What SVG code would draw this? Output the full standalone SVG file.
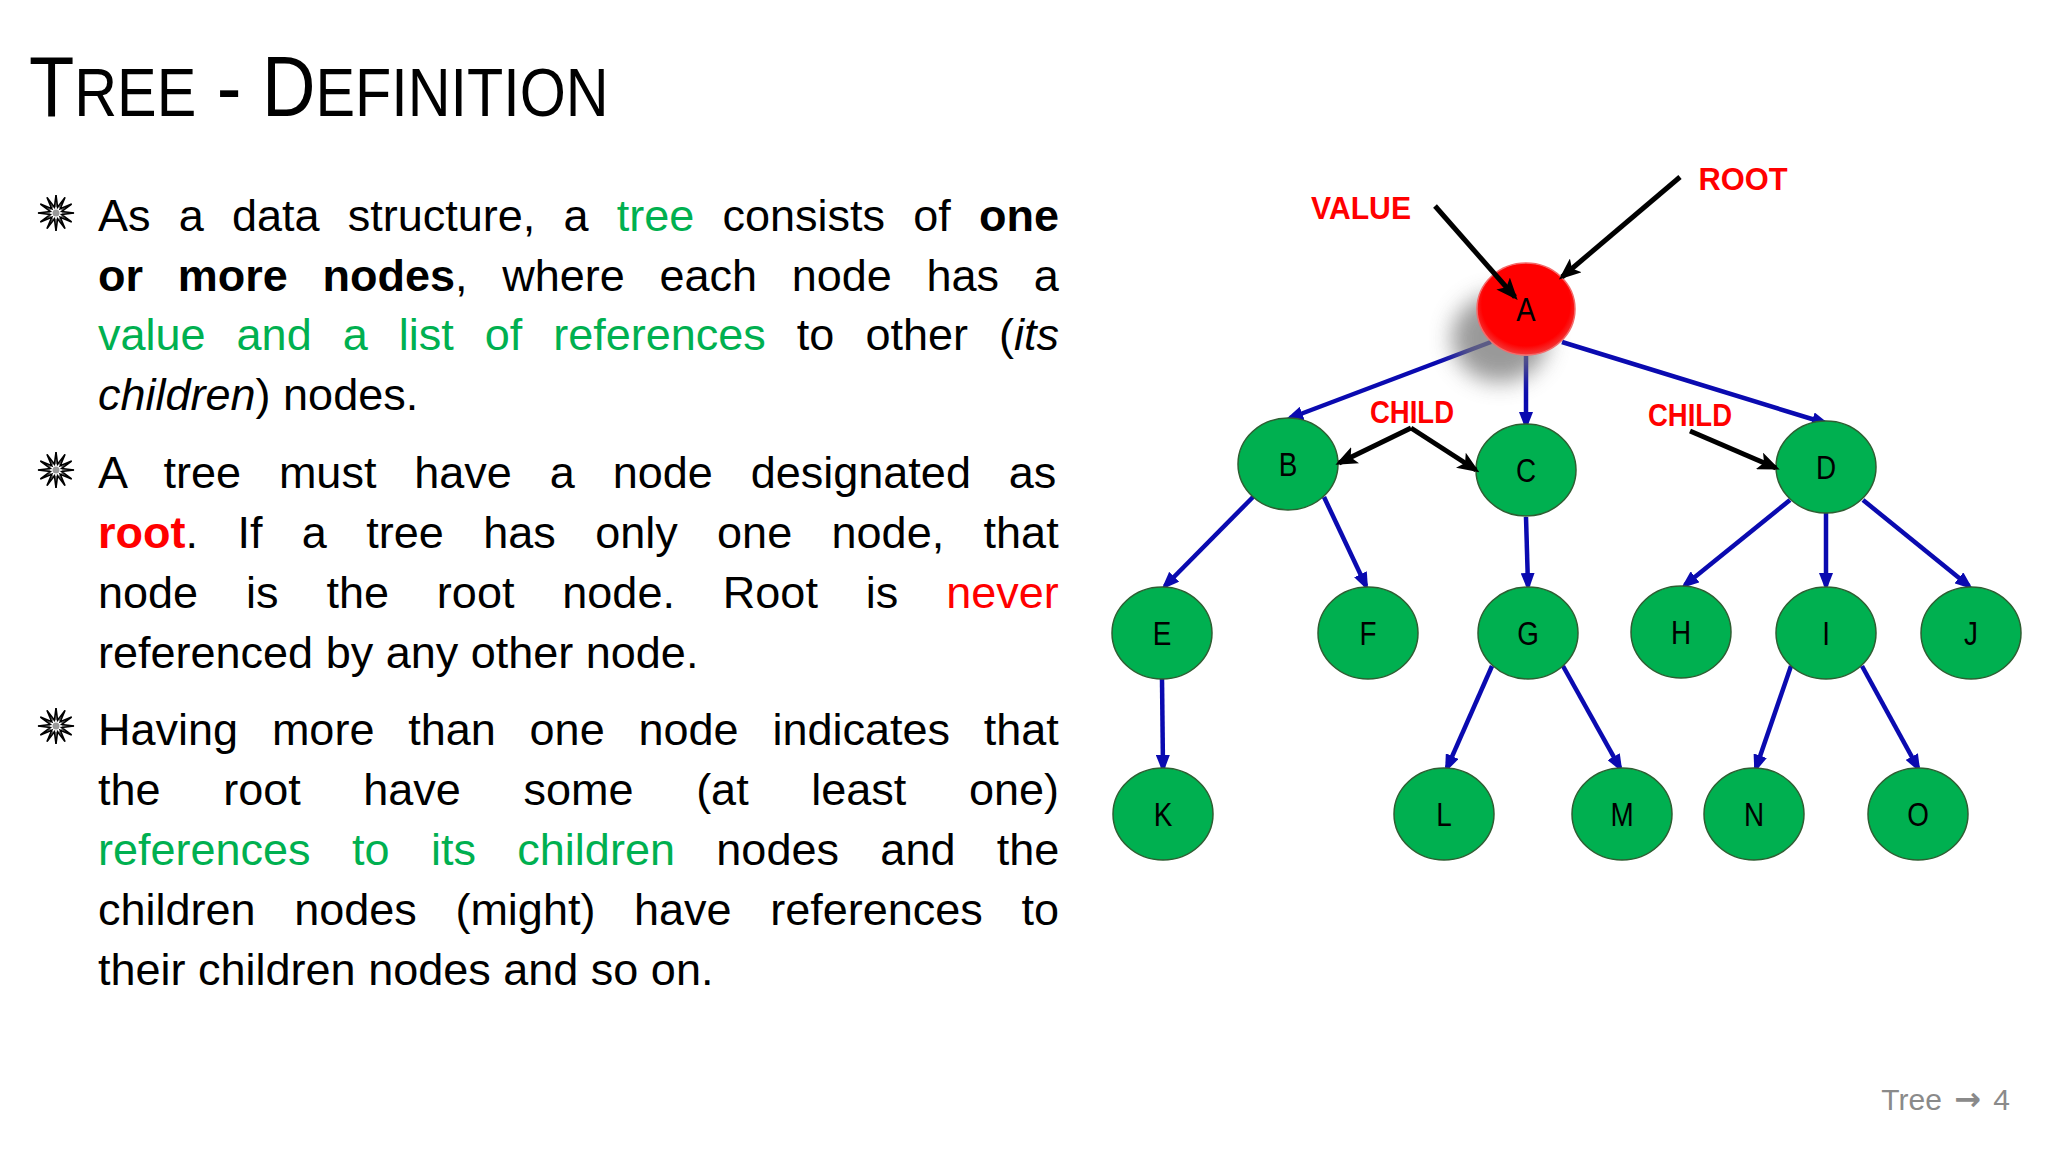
<svg xmlns="http://www.w3.org/2000/svg" width="2048" height="1152" viewBox="0 0 2048 1152">
<style>
.body{font-family:"Liberation Sans",Arial,sans-serif;font-size:45px;fill:#000}
.g{fill:#00B050}
.r{fill:#FF0000}
.b{font-weight:bold}
.i{font-style:italic}
.lbl{font-family:"Liberation Sans",Arial,sans-serif;font-size:31px;font-weight:bold;fill:#FF0000;text-anchor:middle}
.nt{font-family:"Liberation Sans",Arial,sans-serif;font-size:34px;fill:#000;text-anchor:middle}
.gn{fill:#00B050;stroke:#2E5E32;stroke-width:1.5}
.edge{stroke:#0A0AB0;stroke-width:4.5;fill:none;marker-end:url(#ab)}
.kedge{stroke:#000;stroke-width:5;fill:none;marker-end:url(#ak)}
</style>
<defs>
<marker id="ab" markerUnits="userSpaceOnUse" markerWidth="18" markerHeight="14" refX="13" refY="7" orient="auto" viewBox="0 0 18 14"><path d="M0,0 L18,7 L0,14 z" fill="#0A0AB0"/></marker>
<marker id="ak" markerUnits="userSpaceOnUse" markerWidth="22" markerHeight="18" refX="18" refY="9" orient="auto" viewBox="0 0 22 18"><path d="M0,0 L22,9 L0,18 L5,9 z" fill="#000"/></marker>
<g id="bul">
<polygon points="0,-18 1.553,-5.796 9,-15.588 4.243,-4.243 15.588,-9 5.796,-1.553 18,0 5.796,1.553 15.588,9 4.243,4.243 9,15.588 1.553,5.796 0,18 -1.553,5.796 -9,15.588 -4.243,4.243 -15.588,9 -5.796,1.553 -18,0 -5.796,-1.553 -15.588,-9 -4.243,-4.243 -9,-15.588 -1.553,-5.796" fill="#fff" stroke="#000" stroke-width="1.6" stroke-linejoin="miter"/>
<path d="M0,-18L0,-6M0,18L0,6M-18,0L-6,0M18,0L6,0M9,-15.588L3,-5.2M-9,15.588L-3,5.2M15.588,-9L5.2,-3M-15.588,9L-5.2,3M15.588,9L5.2,3M-15.588,-9L-5.2,-3M9,15.588L3,5.2M-9,-15.588L-3,-5.2" stroke="#000" stroke-width="0.8"/>
<circle r="3.5" fill="#999"/>
</g>
<filter id="shadow" x="-50%" y="-50%" width="200%" height="200%"><feGaussianBlur stdDeviation="11"/></filter>
<radialGradient id="redg" cx="50%" cy="45%" r="55%"><stop offset="0.82" stop-color="#FF0000"/><stop offset="1" stop-color="#F23A3A"/></radialGradient>
</defs>
<rect width="2048" height="1152" fill="#fff"/>

<g id="title">
<text transform="translate(29,116) scale(0.872,1)" x="0" y="0" font-family="Liberation Sans, Arial, sans-serif" fill="#000"><tspan font-size="85">T</tspan><tspan font-size="68">REE</tspan><tspan font-size="85"> - D</tspan><tspan font-size="68">EFINITION</tspan></text>
</g>

<g id="bullets">
<use href="#bul" x="56" y="213"/>
<use href="#bul" x="56" y="470"/>
<use href="#bul" x="56" y="726"/>
</g>

<g id="text-body" class="body">
<text x="98" y="231" word-spacing="15.7">As a data structure, a <tspan class="g">tree</tspan> consists of <tspan class="b">one</tspan></text>
<text x="98" y="291" word-spacing="22.2"><tspan class="b">or more nodes</tspan>, where each node has a</text>
<text x="98" y="350" word-spacing="18.5"><tspan class="g">value and a list of references</tspan> to other (<tspan class="i">its</tspan></text>
<text x="98" y="410"><tspan class="i">children</tspan>) nodes.</text>

<text x="98" y="488" word-spacing="25.4">A tree must have a node designated as</text>
<text x="98" y="548" word-spacing="26.9"><tspan class="r b">root</tspan>. If a tree has only one node, that</text>
<text x="98" y="608" word-spacing="35.4">node is the root node. Root is <tspan class="r">never</tspan></text>
<text x="98" y="668">referenced by any other node.</text>

<text x="98" y="745" word-spacing="21.3">Having more than one node indicates that</text>
<text x="98" y="805" word-spacing="50.1">the root have some (at least one)</text>
<text x="98" y="865" word-spacing="28.9"><tspan class="g">references to its children</tspan> nodes and the</text>
<text x="98" y="925" word-spacing="26.1">children nodes (might) have references to</text>
<text x="98" y="985">their children nodes and so on.</text>
</g>

<g id="connectors">
<path class="edge" d="M1491,342 L1290,418"/>
<path class="edge" d="M1526,356 L1526,425"/>
<path class="edge" d="M1562,342 L1825,423"/>
<path class="edge" d="M1253,497 L1165,586"/>
<path class="edge" d="M1324,497 L1366,586"/>
<path class="edge" d="M1526,517 L1528,586"/>
<path class="edge" d="M1790,500 L1685,585"/>
<path class="edge" d="M1826,513 L1826,586"/>
<path class="edge" d="M1863,500 L1969,586"/>
<path class="edge" d="M1162,679 L1163,768"/>
<path class="edge" d="M1492,666 L1447,768"/>
<path class="edge" d="M1563,666 L1620,768"/>
<path class="edge" d="M1791,666 L1756,768"/>
<path class="edge" d="M1862,666 L1918,768"/>
</g>

<g id="node-A">
<ellipse cx="1500" cy="338" rx="48" ry="44" fill="#777" opacity="0.75" filter="url(#shadow)"/>
<ellipse cx="1526" cy="309" rx="49" ry="46" fill="url(#redg)" stroke="#F46A6A" stroke-width="1.5"/>
<text class="nt" transform="translate(1526,321) scale(0.85,1)" x="0" y="0">A</text>
</g>
<g id="node-B"><ellipse class="gn" cx="1288" cy="464" rx="50" ry="46"/><text class="nt" transform="translate(1288,476) scale(0.82,1)">B</text></g>
<g id="node-C"><ellipse class="gn" cx="1526" cy="470" rx="50" ry="46"/><text class="nt" transform="translate(1526,482) scale(0.82,1)">C</text></g>
<g id="node-D"><ellipse class="gn" cx="1826" cy="467" rx="50" ry="46"/><text class="nt" transform="translate(1826,479) scale(0.82,1)">D</text></g>
<g id="node-E"><ellipse class="gn" cx="1162" cy="633" rx="50" ry="46"/><text class="nt" transform="translate(1162,645) scale(0.82,1)">E</text></g>
<g id="node-F"><ellipse class="gn" cx="1368" cy="633" rx="50" ry="46"/><text class="nt" transform="translate(1368,645) scale(0.82,1)">F</text></g>
<g id="node-G"><ellipse class="gn" cx="1528" cy="633" rx="50" ry="46"/><text class="nt" transform="translate(1528,645) scale(0.82,1)">G</text></g>
<g id="node-H"><ellipse class="gn" cx="1681" cy="632" rx="50" ry="46"/><text class="nt" transform="translate(1681,644) scale(0.82,1)">H</text></g>
<g id="node-I"><ellipse class="gn" cx="1826" cy="633" rx="50" ry="46"/><text class="nt" transform="translate(1826,645) scale(0.82,1)">I</text></g>
<g id="node-J"><ellipse class="gn" cx="1971" cy="633" rx="50" ry="46"/><text class="nt" transform="translate(1971,645) scale(0.82,1)">J</text></g>
<g id="node-K"><ellipse class="gn" cx="1163" cy="814" rx="50" ry="46"/><text class="nt" transform="translate(1163,826) scale(0.82,1)">K</text></g>
<g id="node-L"><ellipse class="gn" cx="1444" cy="814" rx="50" ry="46"/><text class="nt" transform="translate(1444,826) scale(0.82,1)">L</text></g>
<g id="node-M"><ellipse class="gn" cx="1622" cy="814" rx="50" ry="46"/><text class="nt" transform="translate(1622,826) scale(0.82,1)">M</text></g>
<g id="node-N"><ellipse class="gn" cx="1754" cy="814" rx="50" ry="46"/><text class="nt" transform="translate(1754,826) scale(0.82,1)">N</text></g>
<g id="node-O"><ellipse class="gn" cx="1918" cy="814" rx="50" ry="46"/><text class="nt" transform="translate(1918,826) scale(0.82,1)">O</text></g>

<g id="pointer-connectors">
<path class="kedge" d="M1435,206 L1515,297"/>
<path class="kedge" d="M1680,177 L1562,277"/>
<path class="kedge" d="M1411,428 L1339,463"/>
<path class="kedge" d="M1411,428 L1476,470"/>
<path class="kedge" d="M1690,431 L1776,468"/>
</g>

<g id="labels">
<text class="lbl" x="1361" y="219" textLength="100" lengthAdjust="spacingAndGlyphs">VALUE</text>
<text class="lbl" x="1743" y="190" textLength="89" lengthAdjust="spacingAndGlyphs">ROOT</text>
<text class="lbl" x="1412" y="423" font-size="29" textLength="84" lengthAdjust="spacingAndGlyphs">CHILD</text>
<text class="lbl" x="1690" y="426" font-size="29" textLength="84" lengthAdjust="spacingAndGlyphs">CHILD</text>
</g>

<g id="footer">
<text x="2010" y="1110" font-family="Liberation Sans, Arial, sans-serif" font-size="30" fill="#8A8A8A" text-anchor="end" word-spacing="4">Tree <tspan font-family="DejaVu Sans, sans-serif" font-size="32" font-weight="bold">→</tspan> 4</text>
</g>
</svg>
